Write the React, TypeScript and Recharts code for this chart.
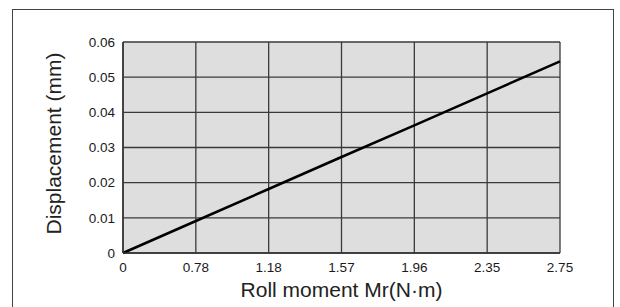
import React from 'react';
import { LineChart, Line, XAxis, YAxis, CartesianGrid } from 'recharts';

const momentLabels = ['0', '0.78', '1.18', '1.57', '1.96', '2.35', '2.75'];
const displacement = [0, 0.0091, 0.0182, 0.0273, 0.0363, 0.0454, 0.0545];
const yTicks = [0, 0.01, 0.02, 0.03, 0.04, 0.05, 0.06];

const data = momentLabels.map((m, i) => ({ moment: m, disp: displacement[i] }));

const TICK_FONT = "'Liberation Sans Narrow', 'Arial Narrow', sans-serif";
const TITLE_FONT = "'Liberation Sans', Arial, sans-serif";

const YTitle = (props: any) => {
  const { viewBox } = props;
  const cx = 53;
  const cy = viewBox.y + viewBox.height / 2 - 4;
  return (
    <text
      x={cx}
      y={cy}
      transform={`rotate(-90, ${cx}, ${cy})`}
      textAnchor="middle"
      dominantBaseline="central"
      fontFamily={TITLE_FONT}
      fontSize={21}
      fill="#222"
    >
      Displacement (mm)
    </text>
  );
};

const XTitle = (props: any) => {
  const { viewBox } = props;
  return (
    <text
      x={viewBox.x + viewBox.width / 2}
      y={297}
      textAnchor="middle"
      fontFamily={TITLE_FONT}
      fontSize={21}
      fill="#222"
    >
      Roll moment Mr(N·m)
    </text>
  );
};

export default function App() {
  return (
    <div style={{ position: 'fixed', left: 0, top: 0, width: 620, height: 307, overflow: 'hidden', background: '#fff' }}>
      <div
        style={{
          position: 'absolute',
          left: 12,
          top: 9,
          width: 600,
          height: 310,
          border: '1.5px solid #444',
        }}
      />
      <div style={{ position: 'absolute', left: 0, top: 0 }}>
        <LineChart width={620} height={307} data={data} margin={{ top: 42, right: 60, bottom: 24, left: 73 }}>
          <CartesianGrid stroke="#3a3a3a" strokeWidth={1.3} fill="#dedede" fillOpacity={1} />
          <XAxis
            dataKey="moment"
            type="category"
            height={30}
            axisLine={{ stroke: '#333', strokeWidth: 1.5 }}
            tickLine={false}
            interval={0}
            tick={{ fill: '#1a1a1a', fontSize: 13.5, fontFamily: TICK_FONT }}
            tickMargin={3}
            label={<XTitle />}
          />
          <YAxis
            type="number"
            domain={[0, 0.06]}
            ticks={yTicks}
            width={50}
            axisLine={{ stroke: '#333', strokeWidth: 1.5 }}
            tickLine={false}
            interval={0}
            tick={{ fill: '#1a1a1a', fontSize: 13.5, fontFamily: TICK_FONT }}
            tickMargin={2}
            label={<YTitle />}
          />
          <Line
            type="linear"
            dataKey="disp"
            stroke="#000"
            strokeWidth={2.5}
            dot={false}
            isAnimationActive={false}
          />
        </LineChart>
      </div>
    </div>
  );
}
